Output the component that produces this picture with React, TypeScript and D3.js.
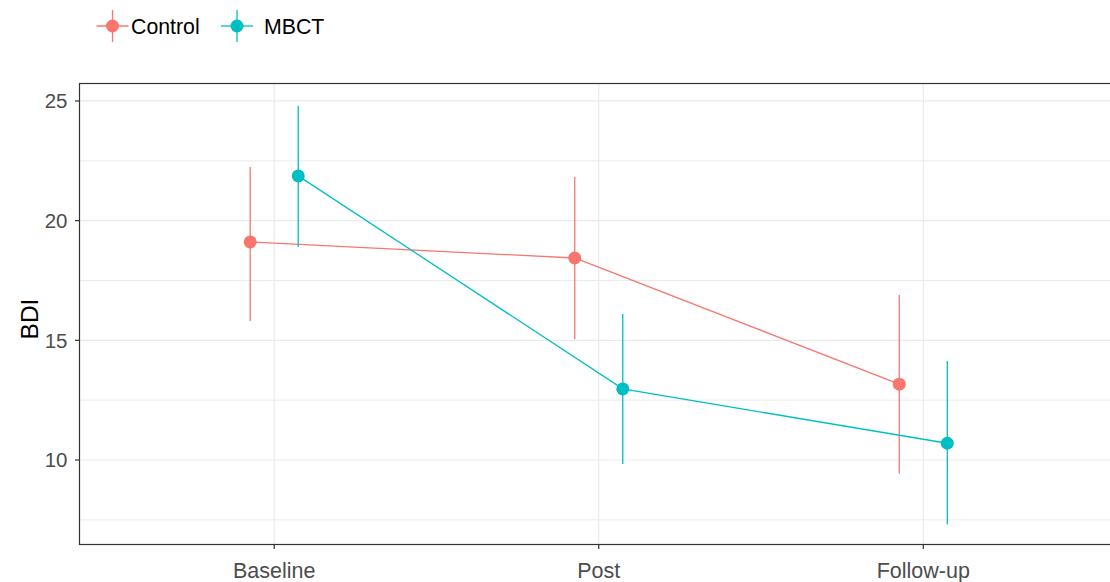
import React from "react";
import * as d3 from "d3";

const timepoints = ["Baseline", "Post", "Follow-up"];
const groups = ["Control", "MBCT"];
const groupColors = ["#F8766D", "#00BFC4"];
const controlMean = [19.11, 18.44, 13.17];
const controlLower = [15.81, 15.05, 9.44];
const controlUpper = [22.24, 21.82, 16.89];
const mbctMean = [21.87, 12.97, 10.7];
const mbctLower = [18.9, 9.83, 7.31];
const mbctUpper = [24.79, 16.1, 14.14];
const yMajorTicks = [10, 15, 20, 25];
const yMinorTicks = [7.5, 12.5, 17.5, 22.5];
const yTitle = "BDI";

const W = 1110;
const H = 582;
const panel = { left: 79.5, right: 1118, top: 83.5, bottom: 544.5 };
const FONT = "'Liberation Sans', Arial, sans-serif";

export default function App() {
  const x = d3
    .scalePoint<string>()
    .domain(timepoints)
    .range([panel.left, panel.right])
    .padding(0.6);
  const y = d3.scaleLinear().domain([6.47, 25.73]).range([panel.bottom, panel.top]);
  const dodge = x.step() * 0.074;

  const series = [
    { name: groups[0], color: groupColors[0], mean: controlMean, lo: controlLower, hi: controlUpper, off: -dodge },
    { name: groups[1], color: groupColors[1], mean: mbctMean, lo: mbctLower, hi: mbctUpper, off: dodge },
  ];

  const line = d3
    .line<{ cx: number; v: number }>()
    .x((d) => d.cx)
    .y((d) => y(d.v));

  const legendItems = [
    { name: groups[0], color: groupColors[0], kx: 112.5, tx: 131 },
    { name: groups[1], color: groupColors[1], kx: 237, tx: 264 },
  ];

  return (
    <svg
      width={W}
      height={H}
      style={{ position: "absolute", left: 0, top: 0, overflow: "hidden", background: "#fff" }}
      fontFamily={FONT}
    >
      <rect x={0} y={0} width={W} height={H} fill="#fff" />
      <rect x={panel.left} y={panel.top} width={panel.right - panel.left} height={panel.bottom - panel.top} fill="#fff" />
      {yMinorTicks.map((t) => (
        <line key={"mn" + t} x1={panel.left} x2={panel.right} y1={y(t)} y2={y(t)} stroke="#EBEBEB" strokeWidth={1} />
      ))}
      {yMajorTicks.map((t) => (
        <line key={"mj" + t} x1={panel.left} x2={panel.right} y1={y(t)} y2={y(t)} stroke="#EBEBEB" strokeWidth={1.2} />
      ))}
      {timepoints.map((c) => (
        <line key={"vx" + c} x1={x(c)} x2={x(c)} y1={panel.top} y2={panel.bottom} stroke="#EBEBEB" strokeWidth={1.2} />
      ))}

      {series.map((s) => {
        const pts = timepoints.map((c, i) => ({ cx: (x(c) as number) + s.off, v: s.mean[i] }));
        return (
          <g key={s.name}>
            <path d={line(pts) || ""} fill="none" stroke={s.color} strokeWidth={1.3} />
            {timepoints.map((c, i) => (
              <line
                key={"eb" + c}
                x1={(x(c) as number) + s.off}
                x2={(x(c) as number) + s.off}
                y1={y(s.lo[i])}
                y2={y(s.hi[i])}
                stroke={s.color}
                strokeWidth={1.3}
              />
            ))}
            {timepoints.map((c, i) => (
              <circle key={"pt" + c} cx={(x(c) as number) + s.off} cy={y(s.mean[i])} r={6.5} fill={s.color} />
            ))}
          </g>
        );
      })}

      <rect
        x={panel.left}
        y={panel.top}
        width={panel.right - panel.left}
        height={panel.bottom - panel.top}
        fill="none"
        stroke="#333333"
        strokeWidth={1.2}
      />

      {yMajorTicks.map((t) => (
        <g key={"yt" + t}>
          <line x1={panel.left - 4.5} x2={panel.left} y1={y(t)} y2={y(t)} stroke="#333333" strokeWidth={1.2} />
          <text x={panel.left - 12} y={y(t)} dy="0.36em" textAnchor="end" fontSize={20.5} fill="#4D4D4D">
            {t}
          </text>
        </g>
      ))}
      <text
        transform={`translate(${38},${(panel.top + panel.bottom) / 2 + 5}) rotate(-90)`}
        textAnchor="middle"
        fontSize={24.5}
        fill="#000"
      >
        {yTitle}
      </text>

      {timepoints.map((c) => (
        <g key={"xt" + c}>
          <line x1={x(c)} x2={x(c)} y1={panel.bottom} y2={panel.bottom + 4.5} stroke="#333333" strokeWidth={1.2} />
          <text x={x(c)} y={panel.bottom + 26} dy="0.35em" textAnchor="middle" fontSize={21.5} fill="#4D4D4D">
            {c}
          </text>
        </g>
      ))}

      {legendItems.map((l) => (
        <g key={"lg" + l.name}>
          <line x1={l.kx - 16} x2={l.kx + 16} y1={26} y2={26} stroke={l.color} strokeWidth={1.3} />
          <line x1={l.kx} x2={l.kx} y1={10} y2={42} stroke={l.color} strokeWidth={1.3} />
          <circle cx={l.kx} cy={26} r={6.5} fill={l.color} />
          <text x={l.tx} y={27} dy="0.35em" fontSize={21.3} fill="#000">
            {l.name}
          </text>
        </g>
      ))}
    </svg>
  );
}
